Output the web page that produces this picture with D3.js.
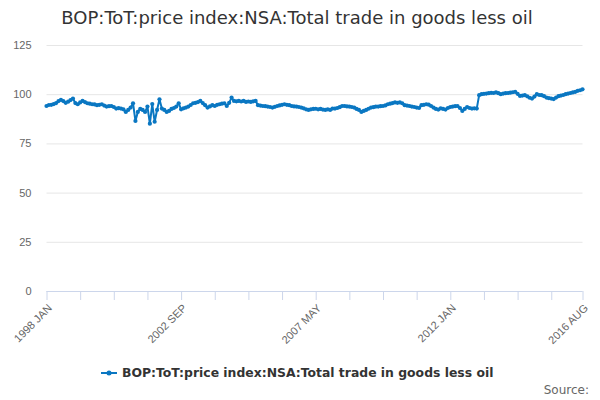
<!DOCTYPE html>
<html><head><meta charset="utf-8">
<script src="https://cdn.jsdelivr.net/npm/d3@7"></script>
<style>body{margin:0;background:#fff;}svg{display:block;font-family:"DejaVu Sans",sans-serif;}</style>
</head><body>
<svg id="chart" width="600" height="400"></svg>
<script>
const titleText = "BOP:ToT:price index:NSA:Total trade in goods less oil";
const seriesName = "BOP:ToT:price index:NSA:Total trade in goods less oil";
const startYear = 1998;
const monthNames = ["JAN","FEB","MAR","APR","MAY","JUN","JUL","AUG","SEP","OCT","NOV","DEC"];
const values = [
  94.0, 94.5, 94.6, 95.0, 95.5, 96.5, 97.1, 96.5, 95.6, 96.2, 97.0, 97.8,
  95.5, 94.9, 95.8, 96.6, 96.0, 95.4, 95.2, 94.9, 94.8, 94.4, 94.6, 94.9,
  94.2, 93.7, 93.9, 94.0, 93.5, 92.7, 92.9, 92.7, 92.3, 91.0, 92.0, 93.2,
  95.4, 86.4, 91.0, 92.5, 92.0, 91.0, 93.7, 85.0, 95.0, 86.0, 92.0, 97.4,
  92.7, 92.0, 91.0, 91.5, 92.5, 93.0, 93.7, 95.4, 92.3, 92.8, 93.2, 93.7,
  94.5, 95.4, 95.6, 96.0, 96.6, 95.5, 94.4, 93.2, 93.8, 94.4, 94.0, 94.6,
  94.9, 95.2, 95.4, 94.0, 95.6, 98.3, 96.6, 96.4, 96.6, 96.3, 96.6, 96.1,
  96.3, 96.1, 96.4, 96.6, 94.4, 94.2, 94.0, 93.9, 93.7, 93.5, 93.2, 93.6,
  94.0, 94.3, 94.6, 94.9, 94.6, 94.4, 94.0, 93.8, 93.7, 93.5, 93.2, 92.8,
  92.3, 92.0, 92.3, 92.5, 92.6, 92.3, 92.5, 92.2, 92.0, 92.3, 92.0, 92.7,
  92.7, 93.0, 93.4, 94.0, 94.0, 93.8, 93.7, 93.5, 93.2, 92.5, 92.0, 91.0,
  91.5, 92.0, 92.6, 93.2, 93.4, 93.7, 93.7, 93.9, 94.0, 94.3, 94.9, 95.2,
  95.5, 95.8, 95.6, 95.8, 95.4, 94.4, 94.2, 94.0, 93.7, 93.5, 93.2, 93.0,
  94.4, 94.6, 94.9, 94.7, 94.0, 93.2, 92.5, 92.2, 92.8, 92.5, 92.2, 93.0,
  93.5, 93.7, 93.9, 94.0, 93.0, 91.5, 92.5, 93.5, 93.0, 92.7, 92.8, 92.7,
  99.5, 100.0, 100.2, 100.3, 100.5, 100.7, 100.6, 100.9, 100.5, 100.0, 100.3, 100.5,
  100.6, 100.8, 101.0, 101.2, 100.2, 99.1, 99.3, 99.5, 98.9, 98.2, 97.8, 98.8,
  100.0, 99.6, 99.5, 99.0, 98.3, 98.0, 97.8, 97.5, 98.3, 99.0, 99.3, 99.6,
  100.0, 100.3, 100.6, 100.9, 101.2, 101.7, 102.0, 102.5
];
const categories = values.map((v, i) => (startYear + Math.floor(i / 12)) + " " + monthNames[i % 12]);
const yTicks = [0, 25, 50, 75, 100, 125];
const xLabels = ["1998 JAN", "2002 SEP", "2007 MAY", "2012 JAN", "2016 AUG"];
const tickStep = 14;

const svg = d3.select("#chart");
const pLeft = 46.5, pRight = 582.5, pTop = 45, pBottom = 291;
const x = d3.scalePoint().domain(categories).range([pLeft, pRight]).padding(0);
const y = d3.scaleLinear().domain([0, 125]).range([pBottom, pTop]);

// title
svg.append("text").attr("x", 297).attr("y", 24).attr("text-anchor", "middle")
  .attr("fill", "#333333").style("font-size", "18px").text(titleText);

// grid + y labels
const yAxis = d3.axisLeft(y).tickValues(yTicks).tickSize(-(pRight - pLeft)).tickPadding(15);
const gy = svg.append("g").attr("transform", `translate(${pLeft},0)`).call(yAxis);
gy.select(".domain").remove();
gy.selectAll(".tick line").attr("stroke", "#e6e6e6");
gy.selectAll(".tick text").attr("fill", "#666666").style("font-size", "11px");

// x axis
const tickCats = categories.filter((c, i) => i % tickStep === 0 || i === categories.length - 1);
const xAxis = d3.axisBottom(x).tickValues(tickCats).tickSize(9)
  .tickFormat(d => xLabels.includes(d) ? d : "");
const gx = svg.append("g").attr("transform", `translate(0,${pBottom})`).call(xAxis);
gx.select(".domain").attr("stroke", "#ccd6eb").attr("d", `M${pLeft},0.5H${pRight}`);
gx.selectAll(".tick line").attr("stroke", "#ccd6eb");
gx.selectAll(".tick text").attr("fill", "#666666").style("font-size", "11px")
  .attr("text-anchor", "end").attr("x", 0).attr("y", 0).attr("dy", "0.35em")
  .attr("transform", "translate(3,15) rotate(-45)");

// line
const color = "#0a77c2";
const line = d3.line().x((d, i) => x(categories[i])).y(d => y(d));
svg.append("path").datum(values).attr("fill", "none").attr("stroke", color)
  .attr("stroke-width", 2).attr("stroke-linejoin", "round").attr("d", line);
svg.append("g").selectAll("circle").data(values).join("circle")
  .attr("cx", (d, i) => x(categories[i])).attr("cy", d => y(d)).attr("r", 2.1).attr("fill", color);

// legend
const lg = svg.append("g");
lg.append("text").attr("x", 122).attr("y", 377).attr("fill", "#333333")
  .style("font-size", "12.4px").style("font-weight", "bold").text(seriesName);
lg.append("line").attr("x1", 101).attr("x2", 117).attr("y1", 373).attr("y2", 373)
  .attr("stroke", color).attr("stroke-width", 2);
lg.append("circle").attr("cx", 109).attr("cy", 373).attr("r", 2.5).attr("fill", color);

// credits
svg.append("text").attr("x", 589).attr("y", 394).attr("text-anchor", "end")
  .attr("fill", "#666666").style("font-size", "12px").text("Source:");
</script>
</body></html>
